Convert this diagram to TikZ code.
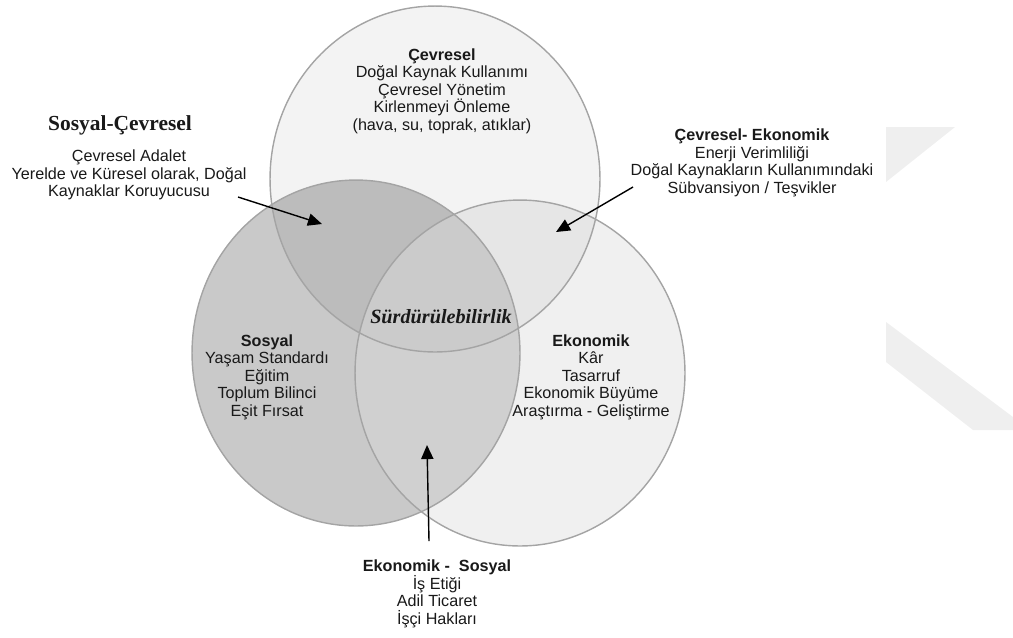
\documentclass[tikz,border=0pt]{standalone}
\usepackage{fontspec}
\setmainfont{Liberation Sans}
\newfontfamily\serifbf{Liberation Serif}
\usetikzlibrary{arrows.meta}
\definecolor{rim}{HTML}{A4A4A4}
\definecolor{wm}{HTML}{EFEFEF}
\definecolor{topfill}{HTML}{F3F3F3}
\definecolor{rightfill}{HTML}{F0F0F0}
\definecolor{leftfill}{HTML}{C9C9C9}
\definecolor{tlfill}{HTML}{BCBCBC}
\definecolor{trfill}{HTML}{E6E6E6}
\definecolor{lrfill}{HTML}{D0D0D0}
\definecolor{allfill}{HTML}{CBCBCB}
\newcommand{\topring}{(435,179) ellipse [x radius=3.3cm, y radius=3.46cm]}
\newcommand{\leftring}{(356,353) ellipse [x radius=3.28cm, y radius=3.46cm]}
\newcommand{\rightring}{(520,373) ellipse [x radius=3.3cm, y radius=3.46cm]}

\begin{document}
\begin{tikzpicture}[x=0.02cm, y=-0.02cm, font=\fontsize{9.2}{10}\selectfont,
    ring/.style={draw=rim, line width=0.8pt},
    lbl/.style={align=center, inner sep=0pt, text=black!90},
    pointer/.style={draw, line width=0.8pt, -{Triangle[length=8pt, width=7pt]}}]
      \useasboundingbox (0,0) rectangle (1013,637);
      %watermark
      \fill[wm] (886,127) -- (955,127) -- (886,182) -- cycle;
      \fill[wm] (886,322) -- (1013,417) -- (1013,430) -- (973,430) -- (886,362) -- cycle;
      %circles
      \fill[topfill] \topring;
      \fill[rightfill] \rightring;
      \fill[leftfill] \leftring;
      \begin{scope}
        \clip \leftring;
        \fill[tlfill] \topring;
      \end{scope}
      \begin{scope}
        \clip \rightring;
        \fill[trfill] \topring;
      \end{scope}
      \begin{scope}
        \clip \leftring;
        \fill[lrfill] \rightring;
        \clip \topring;
        \fill[allfill] \rightring;
      \end{scope}
      \draw[ring] \topring;
      \draw[ring] \leftring;
      \draw[ring] \rightring;
      %nodes
      \node[lbl] (cevresel) at (442,91) {\textbf{Çevresel}\\Doğal Kaynak Kullanımı\\Çevresel Yönetim\\Kirlenmeyi Önleme\\(hava, su, toprak, atıklar)};
      \node[lbl] (sosyal) at (267,377) {\textbf{Sosyal}\\Yaşam Standardı\\Eğitim\\Toplum Bilinci\\Eşit Fırsat};
      \node[lbl] (ekonomik) at (591,377) {\textbf{Ekonomik}\\Kâr\\Tasarruf\\Ekonomik Büyüme\\Araştırma - Geliştirme};
      \node[lbl, font=\serifbf\bfseries\itshape\fontsize{11.5}{12}\selectfont] (surdur) at (441,317) {Sürdürülebilirlik};
      \node[lbl, font=\serifbf\bfseries\fontsize{12.2}{13}\selectfont] (sc-title) at (120,125) {Sosyal-Çevresel};
      \node[lbl] (sc-body) at (129,175) {Çevresel Adalet\\Yerelde ve Küresel olarak, Doğal\\Kaynaklar Koruyucusu};
      \node[lbl] (ce) at (752,163) {\textbf{Çevresel- Ekonomik}\\Enerji Verimliliği\\Doğal Kaynakların Kullanımındaki\\Sübvansiyon / Teşvikler};
      \node[lbl] (es) at (437,594) {\textbf{Ekonomik - \ Sosyal}\\İş Etiği\\Adil Ticaret\\İşçi Hakları};
      %arrows
      \coordinate (sc-tail) at (238,197);
      \coordinate (sc-tip) at (322,224);
      \coordinate (ce-tail) at (633,187);
      \coordinate (ce-tip) at (556,232);
      \coordinate (es-tail) at (429,541);
      \coordinate (es-tip) at (427,445);
      \path [pointer] (sc-tail) -- (sc-tip);
      \path [pointer] (ce-tail) -- (ce-tip);
      \path [pointer] (es-tail) -- (es-tip);
    \end{tikzpicture}
\end{document}
